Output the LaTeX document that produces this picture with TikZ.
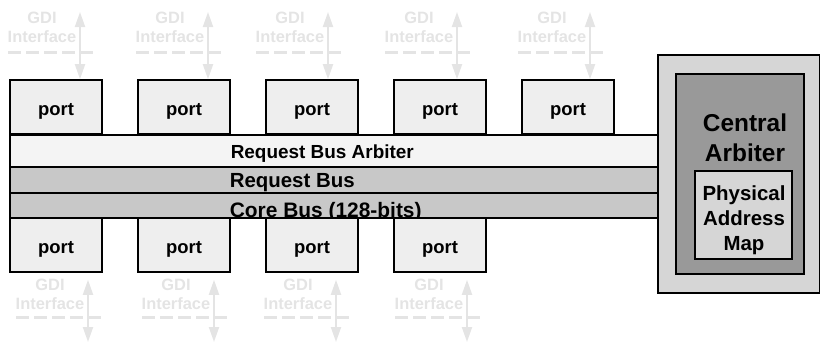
\documentclass[tikz,border=0pt]{standalone}
\usepackage{fontspec}
\setmainfont{Liberation Sans}
\usetikzlibrary{arrows.meta}
\definecolor{portgray}{HTML}{EEEEEE}
\definecolor{gdigray}{HTML}{E4E4E4}
\definecolor{arbgray}{HTML}{F4F4F4}
\definecolor{busgray}{HTML}{C8C8C8}
\definecolor{cagray}{HTML}{D6D6D6}
\definecolor{cadark}{HTML}{999999}
\begin{document}
\begin{tikzpicture}[x=1bp,y=-1bp,line width=1.6bp,
	port/.style={draw,fill=portgray,minimum width=92bp,minimum height=54bp,inner sep=0pt,text height=21bp,text depth=4bp,font=\fontsize{18.5}{20}\selectfont\bfseries},
	gdi/.style={text=gdigray,align=center,inner sep=0pt,font=\fontsize{16.5}{19}\selectfont\bfseries},
	gdiarrow/.style={draw=gdigray,line width=2bp,{Triangle[width=10bp,length=15bp]}-{Triangle[width=10bp,length=15bp]}},
	gdiline/.style={draw=gdigray,line width=3bp,dash pattern=on 13bp off 5bp},
	buslabel/.style={anchor=base west,inner sep=0pt,font=\bfseries}]
	\useasboundingbox (0,0) rectangle (821,343);
	% buses
	\draw[fill=arbgray] (10,135) rectangle (658,167);
	\draw[fill=busgray] (10,167) rectangle (658,193);
	\draw[fill=busgray] (10,193) rectangle (658,218);
	\node[buslabel,font=\fontsize{19}{20}\selectfont\bfseries] (rba) at (230,158) {Request Bus Arbiter};
	\node[buslabel,font=\fontsize{20.5}{22}\selectfont\bfseries] (rb) at (229,187) {Request Bus};
	\node[buslabel,font=\fontsize{21}{22}\selectfont\bfseries] (cb) at (229,217) {Core Bus (128-bits)};
	% upper ports
	\foreach \i/\g [evaluate=\i as \px using 56+128*(\i-1)] in {1/42,2/170,3/290,4/419,5/552} {
		\node[port] (pt\i) at (\px,107) {port};
		\node[gdi] (gt\i) at (\g,27.5) {GDI\\Interface};
		\draw[gdiline] (\g-34,52) -- (\g+53,52);
		\coordinate (at\i) at (\g+38,12);
		\draw[gdiarrow] (at\i) -- (pt\i.north -| at\i);
	}
	% lower ports
	\foreach \i/\g [evaluate=\i as \px using 56+128*(\i-1)] in {1/50,2/176,3/298,4/429} {
		\node[port] (pb\i) at (\px,245) {port};
		\node[gdi] (gb\i) at (\g,294.5) {GDI\\Interface};
		\draw[gdiline] (\g-34,317) -- (\g+53,317);
		\coordinate (ab\i) at (\g+38,342);
		\draw[gdiarrow] ([yshift=-7bp]pb\i.south -| ab\i) -- (ab\i);
	}
	% central arbiter
	\draw[fill=cagray] (658,55) rectangle (819.5,293);
	\draw[fill=cadark] (676,74) rectangle (804,274);
	\draw[fill=cagray] (695,171) rectangle (792,259);
	\node[align=center,inner sep=0pt,font=\fontsize{24.5}{30}\selectfont\bfseries] (ca) at (745,137.5) {Central\\Arbiter};
	\node[align=center,inner sep=0pt,font=\fontsize{20.5}{25}\selectfont\bfseries] (pam) at (744,220) {Physical\\Address\\Map};
\end{tikzpicture}
\end{document}
